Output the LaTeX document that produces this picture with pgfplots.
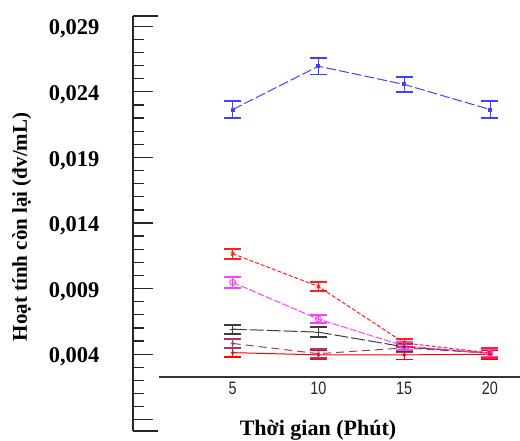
\documentclass[border=0pt]{standalone}
\usepackage{pgfplots}
\pgfplotsset{compat=1.18}
\usepackage{fontspec}
\setmainfont{Liberation Serif}
\newfontfamily\xsans[FakeStretch=0.8]{Liberation Sans}
\definecolor{cblue}{RGB}{64,64,255}
\definecolor{cred}{RGB}{255,32,32}
\definecolor{cmag}{RGB}{255,64,255}
\definecolor{cblk}{RGB}{60,60,60}
\definecolor{cpur}{RGB}{165,55,105}
\definecolor{cred2}{RGB}{255,0,0}
\begin{document}
\begin{tikzpicture}
\path[use as bounding box] (0,0) rectangle (520pt,440pt);
\begin{axis}[
  at={(133pt,9.3pt)}, anchor=south west,
  scale only axis, width=387pt, height=415pt,
  xmin=-0.814, xmax=21.75, ymin=-0.00183, ymax=0.0298,
  scaled y ticks=false,
  axis y line*=left, axis x line*=bottom,
  x axis line style={draw=none},
  y axis line style={line width=2pt, black!85},
  xtick={5,10,15,20}, xticklabels={5,10,15,20},
  x tick style={draw=none},
  xticklabel style={font=\xsans\fontsize{18}{20}\selectfont, yshift=52pt, black!85},
  ytick={-0.001,0.004,0.009,0.014,0.019,0.024,0.029},
  yticklabels={{},{0,004},{0,009},{0,014},{0,019},{0,024},{0,029}},
  minor y tick num=4,
  tick align=inside,
  major tick length=20pt, minor tick length=11pt,
  y tick style={line width=1.3pt, black!85},
  yticklabel style={font=\bfseries\fontsize{22.5}{24}\selectfont, anchor=east, xshift=-30pt, yshift=-3pt},
  xlabel={Thời gian (Phút)},
  xlabel style={font=\bfseries\fontsize{22}{24}\selectfont, at={(axis description cs:0.478,-0.0104)}, anchor=base},
  ylabel={Hoạt tính còn lại (đv/mL)},
  ylabel style={font=\bfseries\fontsize{21}{24}\selectfont, at={(axis description cs:-0.287,0.491)}, anchor=center},
  clip=false,
  every axis plot/.append style={line width=1pt},
  error bars/error bar style={line width=0.9pt, solid},
  error bars/error mark options={rotate=90, mark size=8.5pt, line width=1.9pt},
]
\draw[line width=2pt, black!85] (rel axis cs:0,1) -- ([xshift=25pt]rel axis cs:0,1);
\draw[line width=2pt, black!85] (rel axis cs:0,0) -- ([xshift=25pt]rel axis cs:0,0);
\draw[line width=1.3pt, black!80] (axis cs:0.70,0.00227) -- (axis cs:21.75,0.00227);

% blue
\addplot[cblue, dash pattern=on 10pt off 3pt, mark=square*, mark size=1.5pt, mark options={solid},
  error bars/.cd, y dir=both, y explicit]
  coordinates {(5,0.02265) +- (0,0.00063) (10,0.02595) +- (0,0.00063) (15,0.02456) +- (0,0.00057) (20,0.02265) +- (0,0.00063)};
% red bottom
\addplot[cred2, mark=*, mark size=1.2pt,
  error bars/.cd, y dir=both, y explicit]
  coordinates {(5,0.00412) +- (0,0.00036) (10,0.00395) +- (0,0.00035) (15,0.00395) +- (0,0.00035) (20,0.0040) +- (0,0.00035)};
% purple
\addplot[cpur, dash pattern=on 8pt off 5pt, mark=*, mark size=1.2pt, mark options={solid},
  error bars/.cd, y dir=both, y explicit]
  coordinates {(5,0.00482) +- (0,0.00035) (10,0.00404) +- (0,0.00035) (15,0.00448) +- (0,0.0003) (20,0.00408) +- (0,0.0003)};
% black
\addplot[cblk, dash pattern=on 14pt off 3pt, mark=+, mark size=3pt, mark options={solid},
  error bars/.cd, y dir=both, y explicit]
  coordinates {(5,0.00591) +- (0,0.00035) (10,0.00568) +- (0,0.00036) (15,0.00456) +- (0,0.0003) (20,0.00408) +- (0,0.0003)};
% magenta
\addplot[cmag, dash pattern=on 7pt off 2pt, mark=o, mark size=3pt, mark options={solid},
  error bars/.cd, y dir=both, y explicit]
  coordinates {(5,0.00947) +- (0,0.0004) (10,0.00667) +- (0,0.0003) (15,0.00463) +- (0,0.0003) (20,0.00408) +- (0,0.0003)};
% red top
\addplot[cred, dash pattern=on 4pt off 2pt, mark=x, mark size=2.5pt, mark options={solid},
  error bars/.cd, y dir=both, y explicit]
  coordinates {(5,0.01166) +- (0,0.00037) (10,0.00916) +- (0,0.00034) (15,0.00486) +- (0,0.0003) (20,0.0041) +- (0,0.0004)};
\end{axis}
\end{tikzpicture}
\end{document}
